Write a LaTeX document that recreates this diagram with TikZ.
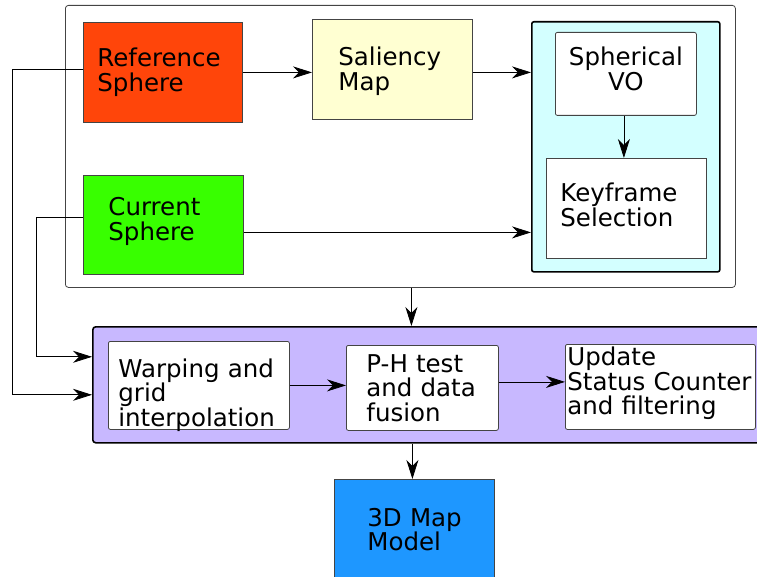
\documentclass[tikz,border=0pt]{standalone}
\usepackage{fontspec}
\setmainfont{DejaVu Sans}
\usetikzlibrary{arrows.meta,calc}
\hyphenpenalty=10000
\exhyphenpenalty=10000
\definecolor{refc}{HTML}{FF450A}
\definecolor{salc}{HTML}{FFFFD2}
\definecolor{cyanc}{HTML}{D3FFFF}
\definecolor{greenc}{HTML}{38FF00}
\definecolor{purplec}{HTML}{C8B8FF}
\definecolor{bluec}{HTML}{1E97FF}
\definecolor{edgec}{HTML}{444444}
\tikzset{
  box/.style={draw=edgec, line width=0.8pt, anchor=north west, align=left,
    font=\fontsize{24.5}{24.5}\selectfont, inner ysep=0pt},
  group/.style={anchor=north west, inner sep=0pt},
  arr/.style={draw=black, line width=0.8pt, -{Stealth[length=19pt,width=12pt,inset=6pt]}},
}
\begin{document}
\begin{tikzpicture}[x=1pt,y=-1pt]
\useasboundingbox (0,0) rectangle (757,577);
\clip (0,0) rectangle (757,577);
% containers
\node[group, draw=edgec, line width=0.8pt, rounded corners=3pt, fill=white,
  minimum width=670pt, minimum height=282pt] (outer) at (65,5) {};
\node[group, draw=black, line width=1.6pt, rounded corners=2pt, fill=cyanc,
  minimum width=188pt, minimum height=250pt] (cyan) at (531,21) {};
\node[group, draw=black, line width=1.6pt, rounded corners=3pt, fill=purplec,
  minimum width=670pt, minimum height=116pt] (purple) at (92,326) {};
% top boxes
\node[box, fill=refc, minimum width=159pt, minimum height=100pt, text width=131pt, inner xsep=14pt] (ref) at (83,22) {Reference\\Sphere};
\node[box, fill=salc, minimum width=160pt, minimum height=100pt, text width=108pt, inner xsep=26pt, text depth=26.3pt] (sal) at (312,19) {Saliency\\Map};
\node[box, fill=greenc, minimum width=160pt, minimum height=99pt, text width=110pt, inner xsep=25pt, text depth=36.3pt] (cur) at (83,175) {Current\\Sphere};
\node[box, fill=white, rounded corners=2pt, align=center, minimum width=141pt, minimum height=83pt, text depth=10pt] (vo) at (555,32) {Spherical\\VO};
\node[box, fill=white, minimum width=160pt, minimum height=100pt, text width=132pt, inner xsep=14pt, text depth=31.5pt] (kf) at (546,158) {Keyframe\\Selection};
% bottom boxes
\node[box, fill=white, rounded corners=2pt, minimum width=181pt, minimum height=88pt, text width=161pt, inner xsep=10pt, text depth=34.8pt] (warp) at (108,341) {Warping~and\\grid\\interpolation};
\node[box, fill=white, rounded corners=2pt, minimum width=152pt, minimum height=85pt, text width=112pt, inner xsep=20pt] (ph) at (346,345) {P-H~test\\and~data\\fusion};
\node[box, fill=white, rounded corners=2pt, minimum width=190pt, minimum height=85pt, text width=186pt, inner xsep=2pt, text depth=60.8pt] (upd) at (565,344) {Update\\Status~Counter\\and~filtering};
\node[box, fill=bluec, minimum width=160pt, minimum height=100pt, text width=94pt, inner xsep=33pt] (map) at (334,479) {3D~Map\\Model};
% connectors
\draw[arr] (ref.east) -- (ref.east -| sal.west);
\draw[arr] (ref.east -| sal.east) -- (ref.east -| cyan.west);
\draw[arr] ([yshift=-7.5pt]cur.east) -- ([yshift=-7.5pt]cur.east -| cyan.west);
\draw[arr] ([xshift=-2pt]vo.south) -- ([xshift=-2pt]vo.south |- kf.north);
\draw[arr] ([xshift=11pt]outer.south) -- ([xshift=11pt]outer.south |- purple.north);
\draw[arr] ([yshift=3pt]ref.west) -- ++(-71,0) |- ([yshift=-10pt]purple.west);
\draw[arr] ([yshift=7.5pt]cur.west) -- ++(-47,0) |- ([yshift=28pt]purple.west);
\draw[arr] (warp.east) -- (warp.east -| ph.west);
\draw[arr] ([yshift=6pt]ph.east) -- ([yshift=6pt]ph.east -| upd.west);
\draw[arr] ([xshift=-2pt]map.north |- purple.south) -- ([xshift=-2pt]map.north);
\end{tikzpicture}
\end{document}
